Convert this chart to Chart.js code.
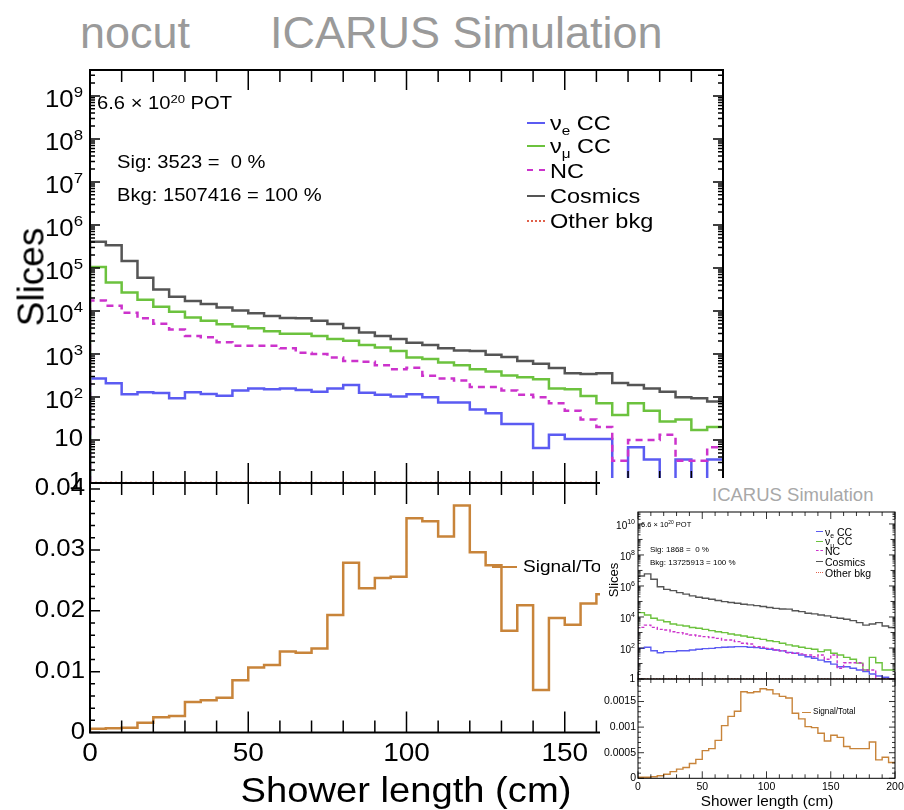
<!DOCTYPE html>
<html>
<head>
<meta charset="utf-8">
<script src="https://cdn.jsdelivr.net/npm/chart.js@4.4.1/dist/chart.umd.min.js"></script>
<style>
  body { margin: 0; background: #fff; font-family: "Liberation Sans", Arial, sans-serif; }
  #page { position: relative; width: 904px; height: 810px; overflow: hidden; background: #fff; }
  canvas { position: absolute; left: 0; top: 0; }
  .t { position: absolute; white-space: nowrap; line-height: 1; color: #000; }
  .sx { transform-origin: 0 50%; transform: scaleX(1.12); }
  .sup { font-size: 0.65em; position: relative; top: -0.55em; }
  .sub { font-size: 0.65em; position: relative; top: 0.35em; }
  .smp { position: absolute; height: 0; }
  #inset { position: absolute; left: 600px; top: 478px; width: 304px; height: 332px; background: #fff; overflow: hidden; }
</style>
</head>
<body>
<div id="page">
  <div class="t" style="left:80px;top:10px;font-size:45px;color:#9a9a9a">nocut</div>
  <div class="t" style="left:270px;top:10px;font-size:45px;color:#9a9a9a">ICARUS Simulation</div>

  <canvas id="mainTop" width="904" height="810"></canvas>
  <canvas id="mainBot" width="904" height="810"></canvas>

  <div class="t sx" style="left:97px;top:94px;font-size:18px">6.6 × 10<span class="sup">20</span> POT</div>
  <div class="t sx" style="left:117px;top:153px;font-size:18px">Sig: 3523 =&nbsp; 0 %</div>
  <div class="t sx" style="left:117px;top:186px;font-size:18px">Bkg: 1507416 = 100 %</div>
  <div id="mainLegend"></div>
  <div class="smp" style="left:492px;top:566px;width:25px;border-top:2px solid #c8843a"></div>
  <div class="t sx" style="left:523px;top:558px;font-size:17px">Signal/Total</div>
  <div class="t" style="left:31px;top:277px;font-size:37px;transform:translate(-50%,-50%) rotate(-90deg)">Slices</div>
  <div class="t" style="left:406px;top:789px;font-size:35px;transform:translate(-50%,-50%) scaleX(1.09)">Shower length (cm)</div>

  <div id="inset">
    <div class="t" style="left:112px;top:8px;font-size:18.5px;color:#a8a8a8">ICARUS Simulation</div>
    <canvas id="insetTop" width="304" height="332"></canvas>
    <canvas id="insetBot" width="304" height="332"></canvas>
    <div class="t" style="left:41px;top:43px;font-size:7.5px">6.6 × 10<span class="sup">20</span> POT</div>
    <div class="t" style="left:50px;top:68px;font-size:8px">Sig: 1868 =&nbsp; 0 %</div>
    <div class="t" style="left:50px;top:80.5px;font-size:8px">Bkg: 13725913 = 100 %</div>
    <div id="insetLegend"></div>
    <div class="smp" style="left:202px;top:234px;width:9px;border-top:1.5px solid #c8843a"></div>
    <div class="t" style="left:213px;top:230px;font-size:8.2px">Signal/Total</div>
    <div class="t" style="left:13px;top:102px;font-size:13px;transform:translate(-50%,-50%) rotate(-90deg)">Slices</div>
    <div class="t" style="left:167px;top:323px;font-size:15.3px;transform:translate(-50%,-50%)">Shower length (cm)</div>
  </div>
</div>

<script>
// bin edges of the shower length histograms (cm)
const binEdges = [0, 5, 10, 15, 20, 25, 30, 35, 40, 45, 50, 55, 60, 65, 70, 75, 80, 85, 90, 95,
  100, 105, 110, 115, 120, 125, 130, 135, 140, 145, 150, 155, 160, 165, 170, 175, 180, 185, 190, 195, 200];

const seriesNames = ["ν<span class='sub'>e</span> CC", "ν<span class='sub'>μ</span> CC", "NC", "Cosmics", "Other bkg"];

// main plot (nocut)
const mainNueCC = [270, 209, 115, 129, 123, 93, 129, 117, 107, 141, 158, 151, 158, 145, 132, 158, 190, 126, 112, 102,
  115, 98, 74, 74, 51, 42, 23.4, 23.4, 6.5, 13.2, 10.5, 10.5, 10.5, 0, 6.8, 3.5, 0, 3.5, 0, 3.5];
const mainNumuCC = [105000, 45700, 26900, 18200, 12600, 9550, 7080, 5890, 4900, 4370, 3980, 3390, 2950, 2950, 2630, 2240, 2040, 1620, 1410, 1170,
  830, 760, 630, 550, 440, 390, 316, 288, 257, 158, 151, 105, 71, 38, 71, 48, 27, 30, 17, 20];
const mainNC = [17400, 13200, 9100, 6760, 5010, 3720, 2630, 2450, 1860, 1550, 1550, 1550, 1350, 1070, 1000, 830, 690, 660, 550, 440,
  480, 310, 270, 240, 170, 170, 141, 112, 98, 71, 48, 30, 20, 3.3, 10, 10, 13.2, 3.3, 3.3, 6.8];
const mainCosmics = [407000, 339000, 145000, 59000, 31600, 21400, 17000, 14500, 12000, 10200, 8900, 7600, 6900, 6800, 5900, 5000, 4000, 3160, 2630, 2240,
  1820, 1620, 1350, 1200, 1170, 955, 850, 690, 590, 470, 355, 340, 355, 210, 190, 158, 132, 98, 93, 78];
const mainOtherBkg = [0, 0, 0, 0, 0, 0, 0, 0, 0, 0, 0, 0, 0, 0, 0, 0, 0, 0, 0, 0,
  0, 0, 0, 0, 0, 0, 0, 0, 0, 0, 0, 0, 0, 0, 0, 0, 0, 0, 0, 0];
const mainSigTotal = [0.0006, 0.0007, 0.0008, 0.0016, 0.0025, 0.0027, 0.0050, 0.0053, 0.0057, 0.0086, 0.0107, 0.0111, 0.0133, 0.0131, 0.0138, 0.0193,
  0.0279, 0.0237, 0.0254, 0.0256, 0.0352, 0.0347, 0.0322, 0.0373, 0.0296, 0.0275, 0.0167, 0.0209, 0.0070, 0.0188, 0.0177, 0.0212, 0.0227];

// inset plot
const insetNueCC = [95, 112, 66, 49, 58, 58, 66, 66, 74, 83, 91, 95, 105, 112, 117, 123, 123, 112, 105, 95,
  83, 74, 65, 52, 46, 35, 27.5, 22, 16.6, 12.9, 9.1, 6.2, 6.2, 4.9, 3.8, 3.0, 2.1, 1.55, 1.29, 0];
const insetNumuCC = [19000, 13500, 8300, 6300, 4900, 3500, 3000, 2600, 2100, 1860, 1580, 1320, 1120, 980, 800, 690, 590, 490, 420, 360,
  295, 257, 200, 158, 135, 112, 95, 83, 58, 74, 46, 35, 25, 18.6, 10.5, 3.8, 25, 11.2, 3.8, 3.8];
const insetNC = [2140, 3000, 2140, 1580, 1450, 1120, 980, 800, 690, 590, 540, 470, 420, 330, 330, 257, 200, 182, 123, 112,
  95, 74, 66, 49, 46, 42, 35, 27.5, 35, 18.6, 35, 4.9, 11.2, 11.2, 11.2, 3.8, 3.8, 0, 0, 0];
const insetCosmics = [4400000, 6000000, 2700000, 890000, 600000, 500000, 370000, 300000, 230000, 186000, 162000, 138000, 115000, 98000, 85000, 76000, 66000, 60000, 54000, 47000,
  41000, 36000, 33000, 32000, 25000, 22000, 17400, 15800, 13500, 11700, 9500, 8300, 7200, 5800, 4300, 3000, 3500, 4300, 2600, 2100];
const insetOtherBkg = [0, 0, 0, 0, 0, 0, 0, 0, 0, 0, 0, 0, 0, 0, 0, 0, 0, 0, 0, 0,
  0, 0, 0, 0, 0, 0, 0, 0, 0, 0, 0, 0, 0, 0, 0, 0, 0, 0, 0, 0];
const insetSigTotal = [0.00002, 0.00002, 0.00003, 0.00005, 0.00008, 0.00013, 0.00018, 0.00021, 0.00029, 0.00037, 0.00054, 0.00058, 0.00074, 0.00103, 0.00121, 0.00131,
  0.00169, 0.00167, 0.00169, 0.00175, 0.00173, 0.00165, 0.00160, 0.00157, 0.00127, 0.00116, 0.00101, 0.00099, 0.00088, 0.00073, 0.00084, 0.00080,
  0.00062, 0.00058, 0.00058, 0.00058, 0.00071, 0.00036, 0.00041, 0.00031];

// tick labels
const mainXTickLabels = ["0", "50", "100", "150", "200"];
const mainLogTickExps = [0, 1, 2, 3, 4, 5, 6, 7, 8, 9];
const mainRatioTickLabels = ["0", "0.01", "0.02", "0.03", "0.04"];
const insetXTickLabels = ["0", "50", "100", "150", "200"];
const insetLogTickExps = [0, 2, 4, 6, 8, 10];
const insetRatioTickLabels = ["0", "0.0005", "0.001", "0.0015"];

const colors = ["#5b5bf2", "#6cc23e", "#cc33cc", "#555555", "#e0604a"];
const lineStyles = ["solid", "solid", "dashed", "solid", "dotted"];
const ratioColor = "#c8843a";
const FONT = '"Liberation Sans", Arial, sans-serif';

function histPoints(values, floor) {
  const pts = [{ x: binEdges[0], y: floor }];
  values.forEach((v, i) => pts.push({ x: binEdges[i], y: v > floor ? v : floor }));
  const last = values[values.length - 1];
  pts.push({ x: binEdges[values.length], y: last > floor ? last : floor });
  return pts;
}

function histDataset(values, floor, color, width, dash) {
  return {
    data: histPoints(values, floor),
    borderColor: color,
    borderWidth: width,
    borderDash: dash,
    stepped: "before",
    pointRadius: 0,
    fill: false,
    borderJoinStyle: "miter"
  };
}

function linTicks(min, max, step, majorEvery, majorLen, minorLen) {
  const n = Math.round((max - min) / step);
  const k = Math.round(majorEvery / step);
  const out = [];
  for (let i = 0; i <= n; i++) out.push({ v: min + i * step, len: i % k === 0 ? majorLen : minorLen });
  return out;
}

function logTicks(maxExp, maxVal, evenLen, oddLen, minorLen) {
  const out = [];
  for (let e = 0; e <= maxExp; e++) {
    out.push({ v: Math.pow(10, e), len: e % 2 === 0 ? evenLen : oddLen });
    for (let m = 2; m <= 9; m++) {
      const v = m * Math.pow(10, e);
      if (v <= maxVal) out.push({ v, len: minorLen });
    }
  }
  return out;
}

function drawText(ctx, s, x, y, font, align, sx) {
  ctx.save();
  ctx.font = font;
  ctx.textAlign = align;
  ctx.textBaseline = "middle";
  ctx.translate(x, y);
  ctx.scale(sx, 1);
  ctx.fillText(s, 0, 0);
  ctx.restore();
}

function rootAxes(cfg) {
  return {
    id: "rootAxes",
    afterDatasetsDraw(chart) {
      const { ctx, chartArea: a } = chart;
      const x = chart.scales.x, y = chart.scales.y;
      ctx.save();
      ctx.strokeStyle = "#000";
      ctx.lineWidth = cfg.tickWidth;
      ctx.beginPath();
      cfg.xTicks.forEach(t => {
        const px = x.getPixelForValue(t.v);
        if (cfg.xBottom) { ctx.moveTo(px, a.bottom); ctx.lineTo(px, a.bottom - t.len); }
        if (cfg.xTop) { ctx.moveTo(px, a.top); ctx.lineTo(px, a.top + t.len); }
      });
      cfg.yTicks.forEach(t => {
        const py = y.getPixelForValue(t.v);
        ctx.moveTo(a.left, py); ctx.lineTo(a.left + t.len, py);
        if (cfg.yRight) { ctx.moveTo(a.right, py); ctx.lineTo(a.right - t.len, py); }
      });
      ctx.stroke();
      ctx.lineWidth = cfg.frameWidth;
      ctx.strokeRect(a.left, a.top, a.right - a.left, a.bottom - a.top);

      ctx.fillStyle = "#000";
      (cfg.xLabels || []).forEach(s => {
        drawText(ctx, s, x.getPixelForValue(parseFloat(s)), a.bottom + cfg.xLabelDy, cfg.xFont, "center", cfg.sx);
      });
      const xr = a.left - cfg.yLabelGap;
      (cfg.yLabels || []).forEach(s => {
        drawText(ctx, s, xr, y.getPixelForValue(parseFloat(s)), cfg.yFont, "right", cfg.sx);
      });
      (cfg.yExps || []).forEach(e => {
        const py = y.getPixelForValue(Math.pow(10, e));
        if (e === 0) { drawText(ctx, "1", xr, py, cfg.yFont, "right", cfg.sx); return; }
        if (e === 1) { drawText(ctx, "10", xr, py, cfg.yFont, "right", cfg.sx); return; }
        ctx.font = cfg.supFont;
        const we = ctx.measureText(String(e)).width * cfg.sx;
        drawText(ctx, String(e), xr, py + cfg.supDy, cfg.supFont, "right", cfg.sx);
        drawText(ctx, "10", xr - we, py + cfg.baseDy, cfg.yFont, "right", cfg.sx);
      });
      ctx.restore();
    }
  };
}

function makeChart(id, datasets, area, yType, yMin, yMax, axes) {
  const canvas = document.getElementById(id);
  return new Chart(canvas, {
    type: "line",
    data: { datasets },
    options: {
      responsive: false,
      animation: false,
      events: [],
      layout: { padding: { left: area.left, top: area.top, right: canvas.width - area.right, bottom: canvas.height - area.bottom } },
      scales: {
        x: { type: "linear", min: 0, max: 200, display: false },
        y: { type: yType, min: yMin, max: yMax, display: false }
      },
      plugins: { legend: { display: false }, tooltip: { enabled: false } }
    },
    plugins: [rootAxes(axes)]
  });
}

function addLegend(holder, sampleLeft, sampleW, textLeft, centers, fontSize, lw, scaled) {
  seriesNames.forEach((name, i) => {
    const smp = document.createElement("div");
    smp.className = "smp";
    smp.style.left = sampleLeft + "px";
    smp.style.top = (centers[i] - lw / 2) + "px";
    smp.style.width = sampleW + "px";
    smp.style.borderTop = lw + "px " + lineStyles[i] + " " + colors[i];
    holder.appendChild(smp);
    const t = document.createElement("div");
    t.className = "t" + (scaled ? " sx" : "");
    t.style.left = textLeft + "px";
    t.style.top = (centers[i] - fontSize / 2) + "px";
    t.style.fontSize = fontSize + "px";
    t.innerHTML = name;
    holder.appendChild(t);
  });
}

// main upper panel
const mainSeries = [mainNueCC, mainNumuCC, mainNC, mainCosmics, mainOtherBkg];
const mainDashes = [[], [], [7, 5], [], [2, 3]];
makeChart("mainTop",
  mainSeries.map((s, i) => histDataset(s, 1, colors[i], 2.5, mainDashes[i])).reverse(),
  { left: 90, top: 70, right: 723, bottom: 483 }, "logarithmic", 1, 4e9, {
    frameWidth: 2, tickWidth: 1.5, xTop: true, xBottom: true, yRight: true,
    xTicks: linTicks(0, 200, 10, 50, 20, 12),
    yTicks: logTicks(9, 4e9, 10, 10, 5),
    yExps: mainLogTickExps, yLabelGap: 7, sx: 1.12,
    yFont: "23px " + FONT, supFont: "15px " + FONT, baseDy: 5, supDy: -3
  });

// main ratio panel
makeChart("mainBot",
  [histDataset(mainSigTotal, 0, ratioColor, 2.5, [])],
  { left: 90, top: 483, right: 723, bottom: 732.5 }, "linear", 0, 0.041, {
    frameWidth: 2, tickWidth: 1.5, xTop: true, xBottom: true, yRight: true,
    xTicks: linTicks(0, 200, 10, 50, 21, 12),
    yTicks: linTicks(0, 0.04, 0.002, 0.01, 10, 5),
    xLabels: mainXTickLabels, xLabelDy: 22, xFont: "25px " + FONT,
    yLabels: mainRatioTickLabels, yLabelGap: 5, yFont: "23px " + FONT, sx: 1.12
  });

// inset upper panel
const insetSeries = [insetNueCC, insetNumuCC, insetNC, insetCosmics, insetOtherBkg];
const insetDashes = [[], [], [3, 2], [], [1.5, 1.5]];
makeChart("insetTop",
  insetSeries.map((s, i) => histDataset(s, 1, colors[i], 1.4, insetDashes[i])).reverse(),
  { left: 38, top: 34, right: 295, bottom: 201 }, "logarithmic", 1, 5.9e10, {
    frameWidth: 1, tickWidth: 0.8, xTop: true, xBottom: true, yRight: true,
    xTicks: linTicks(0, 200, 10, 50, 7, 4),
    yTicks: logTicks(10, 5.9e10, 6, 4.5, 2.5),
    yExps: insetLogTickExps, yLabelGap: 3, sx: 1,
    yFont: "10px " + FONT, supFont: "7px " + FONT, baseDy: 2, supDy: -2
  });

// inset ratio panel
makeChart("insetBot",
  [histDataset(insetSigTotal, 0, ratioColor, 1.4, [])],
  { left: 38, top: 201, right: 295, bottom: 300.3 }, "linear", 0, 0.00194, {
    frameWidth: 1, tickWidth: 0.8, xTop: true, xBottom: true, yRight: true,
    xTicks: linTicks(0, 200, 10, 50, 7, 4),
    yTicks: linTicks(0, 0.0019, 0.0001, 0.0005, 6, 3),
    xLabels: insetXTickLabels, xLabelDy: 9, xFont: "10.5px " + FONT,
    yLabels: insetRatioTickLabels, yLabelGap: 2, yFont: "10.5px " + FONT, sx: 1
  });

addLegend(document.getElementById("mainLegend"), 527, 18, 550, [122.5, 145.5, 170, 195.5, 220.5], 21, 2, true);
addLegend(document.getElementById("insetLegend"), 216, 7, 225, [54, 63.5, 73, 84, 95], 10.5, 1.5, false);
</script>
</body>
</html>
